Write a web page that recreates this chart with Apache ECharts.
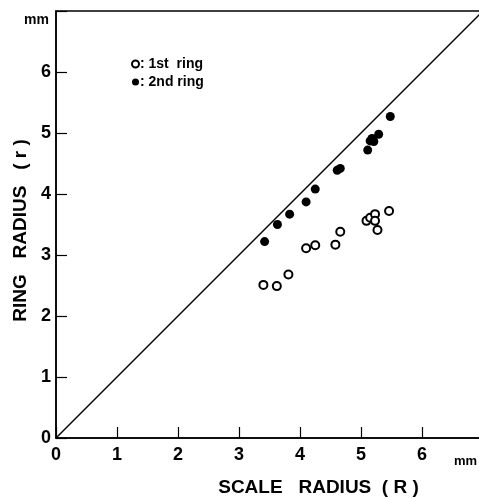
<!DOCTYPE html>
<html>
<head>
<meta charset="utf-8">
<script src="https://cdn.jsdelivr.net/npm/echarts@6/dist/echarts.min.js"></script>
<style>
html,body{margin:0;padding:0;background:#fff;}
#main{width:479px;height:498px;}
</style>
</head>
<body>
<div id="main"></div>
<script>
// 1st ring (open circles): [scale radius R, ring radius r]
var firstRing = [
    [3.40, 2.51], [3.62, 2.49], [3.81, 2.68], [4.10, 3.11], [4.25, 3.16],
    [4.58, 3.17], [4.66, 3.38], [5.09, 3.56], [5.15, 3.61], [5.23, 3.67],
    [5.23, 3.56], [5.27, 3.41], [5.46, 3.72]
];
// 2nd ring (filled circles)
var secondRing = [
    [3.42, 3.22], [3.63, 3.50], [3.83, 3.67], [4.10, 3.87], [4.25, 4.08],
    [4.61, 4.39], [4.66, 4.42], [5.11, 4.72], [5.15, 4.87], [5.21, 4.86],
    [5.18, 4.91], [5.29, 4.98], [5.48, 5.27]
];
// r = R reference line
var equalLine = [[0, 0], [7, 7]];
var tickLabels = ['0', '1', '2', '3', '4', '5', '6'];

var font = '"Liberation Sans", Arial, sans-serif';
var chart = echarts.init(document.getElementById('main'));

var axisCommon = {
    type: 'value',
    min: 0,
    max: 7,
    interval: 1,
    axisLine: {show: true, lineStyle: {color: '#000', width: 1.5}},
    axisTick: {show: true, inside: true, length: 11, lineStyle: {color: '#000', width: 1.2}},
    splitLine: {show: false},
    axisLabel: {
        color: '#000',
        fontFamily: font,
        fontWeight: 'bold',
        fontSize: 18,
        formatter: function (v) { return tickLabels[v] !== undefined ? tickLabels[v] : ''; }
    }
};

var option = {
    animation: false,
    backgroundColor: '#fff',
    grid: {
        left: 56, top: 11, width: 427, height: 427,
        outerBoundsMode: 'none',
        containLabel: false,
        show: true, borderColor: '#000', borderWidth: 1.5
    },
    legend: {
        orient: 'vertical',
        left: 126, top: 52,
        itemWidth: 7, itemHeight: 7, itemGap: 4,
        data: [{name: '1st  ring', icon: 'emptyCircle'}, {name: '2nd ring', icon: 'circle'}],
        formatter: ': {name}',
        textStyle: {color: '#000', fontFamily: font, fontWeight: 'bold', fontSize: 14, padding: [0, 0, 0, -4]}
    },
    xAxis: echarts.util.merge({
        name: 'SCALE   RADIUS  ( R )',
        nameLocation: 'middle',
        nameGap: 40,
        nameTextStyle: {color: '#000', fontFamily: font, fontWeight: 'bold', fontSize: 19, padding: [0, 0, 0, 98]}
    }, echarts.util.merge({axisLabel: {margin: 8}}, axisCommon, false), false),
    yAxis: echarts.util.merge({
        name: 'RING   RADIUS   ( r )',
        nameLocation: 'middle',
        nameGap: 26,
        nameRotate: 90,
        nameTextStyle: {color: '#000', fontFamily: font, fontWeight: 'bold', fontSize: 19, padding: [0, 0, 0, -12]}
    }, echarts.util.merge({axisLabel: {margin: 5}}, axisCommon, false), false),
    graphic: [
        {type: 'text', left: 24, top: 13, style: {text: 'mm', fill: '#000', font: 'bold 14px ' + font}},
        {type: 'text', left: 454, top: 455, style: {text: 'mm', fill: '#000', font: 'bold 13px ' + font}}
    ],
    series: [
        {
            name: 'r = R',
            type: 'line',
            data: equalLine,
            symbol: 'none',
            silent: true,
            lineStyle: {color: '#000', width: 1.5}
        },
        {
            name: '1st  ring',
            type: 'scatter',
            symbol: 'emptyCircle',
            symbolSize: 8,
            itemStyle: {color: '#000', borderColor: '#000', borderWidth: 1.5, opacity: 1},
            data: firstRing
        },
        {
            name: '2nd ring',
            type: 'scatter',
            symbol: 'circle',
            symbolSize: 9,
            itemStyle: {color: '#000', opacity: 1},
            data: secondRing
        }
    ]
};
chart.setOption(option);
</script>
</body>
</html>
